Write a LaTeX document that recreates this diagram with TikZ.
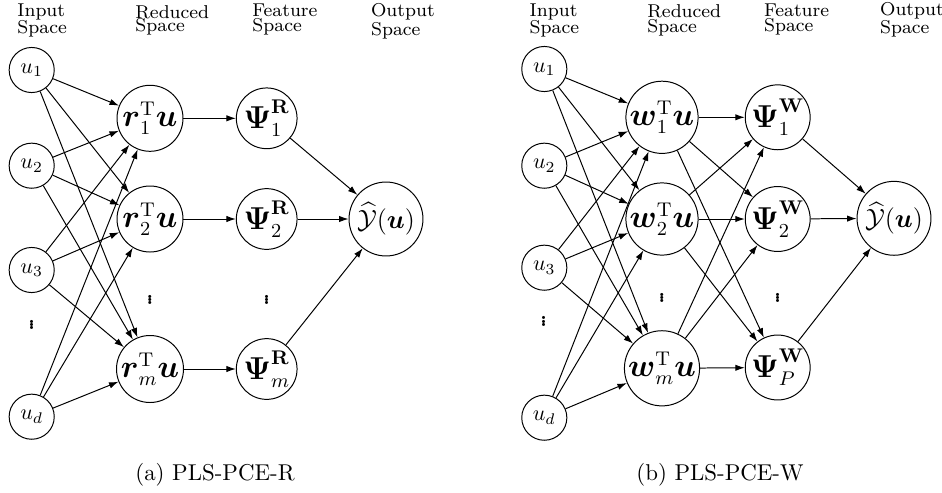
\documentclass[tikz,border=0pt]{standalone}
\usepackage{amsmath,amssymb,graphicx}
\usetikzlibrary{arrows.meta}
\newcommand{\smalldots}{\vbox{\fontsize{9}{3}\selectfont\bfseries\baselineskip=1.5pt\lineskiplimit=-20pt\lineskip=0pt\hbox{.}\hbox{.}\hbox{.}}}
\begin{document}
\begin{tikzpicture}[x=0.4545pt,y=-0.4545pt,
 nd/.style={circle,draw,line width=0.45pt,inner sep=0pt},
 inn/.style={nd,minimum size=20.5pt,font=\fontsize{10}{11}\selectfont},
 redn/.style={nd,minimum size=30pt,font=\fontsize{13.5}{14}\selectfont},
 featn/.style={nd,minimum size=27.6pt,font=\fontsize{13.5}{14}\selectfont},
 outn/.style={nd,minimum size=33.6pt,font=\fontsize{12}{13}\selectfont},
 hdr/.style={anchor=base west,inner sep=0pt,font=\fontsize{8.45}{9}\selectfont},
 captxt/.style={anchor=base,inner sep=0pt,font=\fontsize{10.4}{12}\selectfont},
 arr/.style={-{Latex[length=4.3pt,width=2.9pt]},line width=0.45pt},
 dts/.style={inner sep=0pt}]
\useasboundingbox (0,0) rectangle (942,492);
% ---------- headers (a)
\node[hdr] (ha1) at (17,16) {Input};
\node[hdr] (ha2) at (17,33) {Space};
\node[hdr] (ha3) at (135,18) {Reduced};
\node[hdr] (ha4) at (135,31.7) {Space};
\node[hdr] (ha5) at (252,16.7) {Feature};
\node[hdr] (ha6) at (252,31.7) {Space};
\node[hdr] (ha7) at (370.7,16) {Output};
\node[hdr] (ha8) at (370.7,35) {Space};
% ---------- headers (b)
\node[hdr] (hb1) at (529.3,16) {Input};
\node[hdr] (hb2) at (529.3,33) {Space};
\node[hdr] (hb3) at (647,17) {Reduced};
\node[hdr] (hb4) at (647,32) {Space};
\node[hdr] (hb5) at (763.7,16.7) {Feature};
\node[hdr] (hb6) at (763.7,31.7) {Space};
\node[hdr] (hb7) at (879.7,15) {Output};
\node[hdr] (hb8) at (879.7,33) {Space};
% ---------- panel (a)
\node[inn] (a1) at (31.7,70) {$u_1$};
\node[inn] (a2) at (31.7,165.7) {$u_2$};
\node[inn] (a3) at (31.7,270) {$u_3$};
\node[inn] (ad) at (31.7,416.7) {$u_d$};
\node[dts] (aud) at (31.7,325) {\smalldots};
\node[redn] (ar1) at (150,118.3) {$\boldsymbol{r}_1^{\mathrm{T}}\boldsymbol{u}$};
\node[redn] (ar2) at (150,219) {$\boldsymbol{r}_2^{\mathrm{T}}\boldsymbol{u}$};
\node[redn] (arm) at (150,369) {$\boldsymbol{r}_m^{\mathrm{T}}\boldsymbol{u}$};
\node[dts] (ard) at (150,300) {\smalldots};
\node[featn] (ap1) at (266.7,118.3) {$\boldsymbol{\Psi}_1^{\mathbf{R}}$};
\node[featn] (ap2) at (266.7,219) {$\boldsymbol{\Psi}_2^{\mathbf{R}}$};
\node[featn] (apm) at (266.7,369) {$\boldsymbol{\Psi}_m^{\mathbf{R}}$};
\node[dts] (apd) at (266.7,300) {\smalldots};
\node[outn] (ay) at (386,219) {$\widehat{\mathcal{Y}}(\boldsymbol{u})$};
\foreach \s in {a1,a2,a3,ad}{\foreach \t in {ar1,ar2,arm}{\draw[arr] (\s) -- (\t);}}
\draw[arr] (ar1) -- (ap1);
\draw[arr] (ar2) -- (ap2);
\draw[arr] (arm) -- (apm);
\foreach \s in {ap1,ap2,apm}{\draw[arr] (\s) -- (ay);}
\node[captxt] (capa) at (215,480) {(a) PLS-PCE-R};
% ---------- panel (b)
\node[inn] (b1) at (544.3,69) {$u_1$};
\node[inn] (b2) at (544.3,165.7) {$u_2$};
\node[inn] (b3) at (544.3,267.7) {$u_3$};
\node[inn] (bd) at (544.3,417.7) {$u_d$};
\node[dts] (bud) at (543.7,321.7) {\smalldots};
\node[redn,minimum size=31.5pt] (bw1) at (662,117.3) {$\boldsymbol{w}_1^{\mathrm{T}}\boldsymbol{u}$};
\node[redn,minimum size=31.5pt] (bw2) at (662,219) {$\boldsymbol{w}_2^{\mathrm{T}}\boldsymbol{u}$};
\node[redn,minimum size=31.5pt] (bwm) at (662,368.3) {$\boldsymbol{w}_m^{\mathrm{T}}\boldsymbol{u}$};
\node[dts] (bwd) at (662,298) {\smalldots};
\node[featn,minimum size=29.5pt] (bp1) at (777.7,117.3) {$\boldsymbol{\Psi}_1^{\mathbf{W}}$};
\node[featn,minimum size=29.5pt] (bp2) at (777.7,219) {$\boldsymbol{\Psi}_2^{\mathbf{W}}$};
\node[featn,minimum size=29.5pt] (bpp) at (777.7,367.5) {$\boldsymbol{\Psi}_P^{\mathbf{W}}$};
\node[dts] (bpd) at (777.7,298) {\smalldots};
\node[outn] (by) at (894,218.3) {$\widehat{\mathcal{Y}}(\boldsymbol{u})$};
\foreach \s in {b1,b2,b3,bd}{\foreach \t in {bw1,bw2,bwm}{\draw[arr] (\s) -- (\t);}}
\foreach \s in {bw1,bw2,bwm}{\foreach \t in {bp1,bp2,bpp}{\draw[arr] (\s) -- (\t);}}
\foreach \s in {bp1,bp2,bpp}{\draw[arr] (\s) -- (by);}
\node[captxt] (capb) at (720,480) {(b) PLS-PCE-W};
\end{tikzpicture}
\end{document}
